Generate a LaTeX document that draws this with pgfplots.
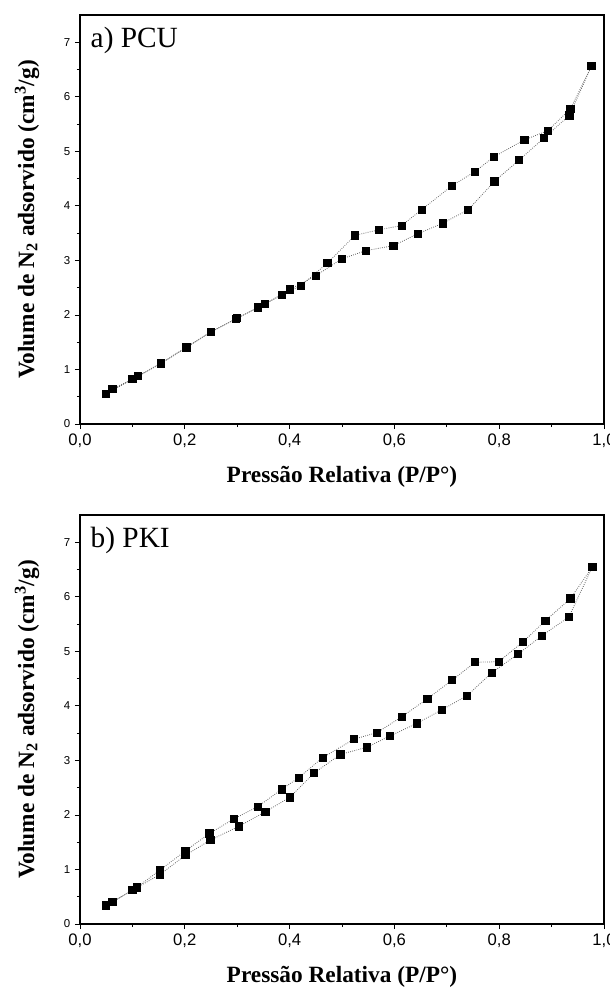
\documentclass[border=0pt]{standalone}
\usepackage{fontspec}
\setmainfont{Liberation Serif}
\newfontfamily\tickfont{Liberation Sans}
\usepackage{pgfplots}
\pgfplotsset{compat=1.18}

\pgfplotsset{
 isoaxis/.style={
  scale only axis, width=393pt, height=306.75pt,
  xmin=0, xmax=1, ymin=0, ymax=7.5,
  xtick={0,0.2,0.4,0.6,0.8,1}, ytick={0,1,2,3,4,5,6,7},
  minor x tick num=1, minor y tick num=1,
  tick align=outside, tick pos=left,
  major tick length=3.75pt, minor tick length=2.25pt,
  axis line style={line width=0.9pt},
  every tick/.style={black, line width=0.6pt},
  /pgf/number format/assume math mode=true,
  xticklabel style={font=\tickfont\fontsize{12.5}{14}\selectfont, /pgf/number format/.cd, use comma, fixed, fixed zerofill, precision=1},
  yticklabel style={font=\tickfont\fontsize{8.6}{10}\selectfont},
  xlabel={Pressão Relativa (P/P°)},
  ylabel={Volume de N\textsubscript{2} adsorvido (cm\textsuperscript{3}/g)},
  label style={font=\fontsize{17.5}{20}\selectfont\bfseries},
  xlabel style={at={(axis description cs:0.5,-0.1296)}, anchor=center},
  ylabel style={at={(axis description cs:-0.1011,0.5)}, anchor=center},
 },
 iso/.style={densely dotted, gray!80!black, line width=0.6pt, mark=square*, mark size=2.7pt, mark options={solid, fill=black, draw=black}},
}

\begin{document}
\begin{tikzpicture}
\useasboundingbox (-60pt,-424.5pt) rectangle (397.5pt,318pt);

% Panel a) PCU
\begin{axis}[isoaxis, at={(0pt,0pt)}, anchor=south west]
\addplot[iso] coordinates {
(0.05,0.55) (0.10,0.82) (0.155,1.11) (0.203,1.40) (0.25,1.69) (0.30,1.94)
(0.353,2.20) (0.401,2.47) (0.45,2.72) (0.50,3.03) (0.546,3.18) (0.598,3.27)
(0.645,3.49) (0.692,3.68) (0.741,3.93) (0.791,4.45) (0.838,4.84) (0.885,5.24)
(0.934,5.66) (0.976,6.56)
};
\addplot[iso] coordinates {
(0.976,6.56) (0.936,5.78) (0.893,5.38) (0.848,5.21) (0.790,4.90) (0.754,4.63)
(0.710,4.37) (0.652,3.93) (0.614,3.64) (0.570,3.56) (0.525,3.46) (0.472,2.95)
(0.421,2.53) (0.386,2.37) (0.340,2.14) (0.298,1.93) (0.25,1.69) (0.203,1.41)
(0.155,1.12) (0.111,0.88) (0.062,0.64)
};
\node[anchor=west, font=\fontsize{22}{24}\selectfont] at (axis description cs:0.0115,0.939) {a) PCU};
\end{axis}

% Panel b) PKI
\begin{axis}[isoaxis, at={(0pt,-375pt)}, anchor=south west]
\addplot[iso] coordinates {
(0.050,0.34) (0.100,0.62) (0.153,0.91) (0.201,1.26) (0.249,1.54) (0.303,1.79)
(0.354,2.06) (0.400,2.32) (0.447,2.77) (0.497,3.11) (0.547,3.24) (0.592,3.45)
(0.643,3.68) (0.691,3.93) (0.739,4.19) (0.786,4.61) (0.836,4.95) (0.882,5.29)
(0.933,5.63) (0.978,6.55)
};
\addplot[iso] coordinates {
(0.978,6.55) (0.936,5.97) (0.888,5.56) (0.845,5.17) (0.799,4.81) (0.754,4.80)
(0.710,4.47) (0.663,4.13) (0.614,3.80) (0.567,3.51) (0.523,3.39) (0.463,3.05)
(0.417,2.68) (0.385,2.47) (0.339,2.15) (0.294,1.93) (0.247,1.66) (0.201,1.34)
(0.153,0.99) (0.108,0.67) (0.062,0.40)
};
\node[anchor=west, font=\fontsize{22}{24}\selectfont] at (axis description cs:0.0115,0.939) {b) PKI};
\end{axis}
\end{tikzpicture}
\end{document}
